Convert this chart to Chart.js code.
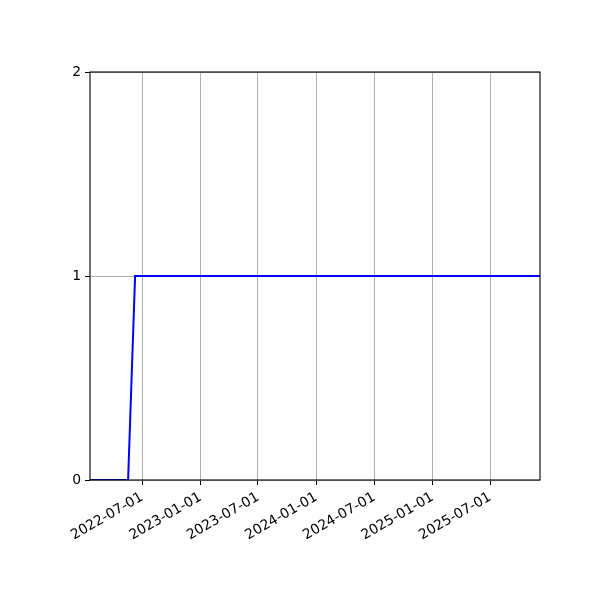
<!DOCTYPE html>
<html>
<head>
<meta charset="utf-8">
<script src="https://cdn.jsdelivr.net/npm/chart.js@4"></script>
<style>
html,body{margin:0;padding:0;background:#fff;}
#wrap{width:600px;height:600px;}
</style>
</head>
<body>
<div id="wrap"><canvas id="c" width="600" height="600"></canvas></div>
<script>
const dates = ['2022-01-18', '2022-05-18', '2022-06-09', '2025-12-05'];
const values = [0, 0, 1, 1];
const tickDates = ['2022-07-01', '2023-01-01', '2023-07-01', '2024-01-01', '2024-07-01', '2025-01-01', '2025-07-01'];
const yTicks = [0, 1, 2];

const toMs = s => Date.parse(s + 'T00:00:00Z');
const pad = n => String(n).padStart(2, '0');
const fmt = v => { const d = new Date(v); return d.getUTCFullYear() + '-' + pad(d.getUTCMonth() + 1) + '-' + pad(d.getUTCDate()); };

const points = dates.map((d, i) => ({ x: toMs(d), y: values[i] }));

const framePlugin = {
  id: 'frame',
  afterDraw(chart) {
    const a = chart.chartArea, ctx = chart.ctx;
    ctx.save();
    ctx.strokeStyle = '#000';
    ctx.lineWidth = 1.1;
    ctx.strokeRect(a.left, a.top, a.right - a.left, a.bottom - a.top);
    ctx.restore();
  }
};

new Chart(document.getElementById('c'), {
  type: 'line',
  data: {
    datasets: [{
      data: points,
      borderColor: '#0000ff',
      borderWidth: 2,
      pointRadius: 0,
      tension: 0,
      fill: false
    }]
  },
  options: {
    responsive: false,
    animation: false,
    devicePixelRatio: 1,
    layout: { padding: { top: 72, right: 60, left: 0, bottom: 0 } },
    plugins: { legend: { display: false }, tooltip: { enabled: false } },
    scales: {
      x: {
        type: 'linear',
        min: toMs(dates[0]),
        max: toMs(dates[dates.length - 1]),
        afterBuildTicks(scale) { scale.ticks = tickDates.map(d => ({ value: toMs(d) })); },
        afterFit(scale) { scale.height = 120; },
        border: { display: false },
        grid: { color: '#b0b0b0', lineWidth: 1, tickColor: '#000', tickLength: 5, drawTicks: true },
        ticks: {
          autoSkip: false,
          minRotation: 30,
          maxRotation: 30,
          padding: 4,
          color: '#000',
          font: { family: 'DejaVu Sans', size: 13.9 },
          callback: v => fmt(v)
        }
      },
      y: {
        min: 0,
        max: 2,
        afterBuildTicks(scale) { scale.ticks = yTicks.map(v => ({ value: v })); },
        afterFit(scale) { scale.width = 90; },
        border: { display: false },
        grid: { color: '#b0b0b0', lineWidth: 1, tickColor: '#000', tickLength: 5 },
        ticks: {
          padding: 4,
          color: '#000',
          font: { family: 'DejaVu Sans', size: 13.9 },
          callback: v => String(v)
        }
      }
    }
  },
  plugins: [framePlugin]
});
</script>
</body>
</html>
